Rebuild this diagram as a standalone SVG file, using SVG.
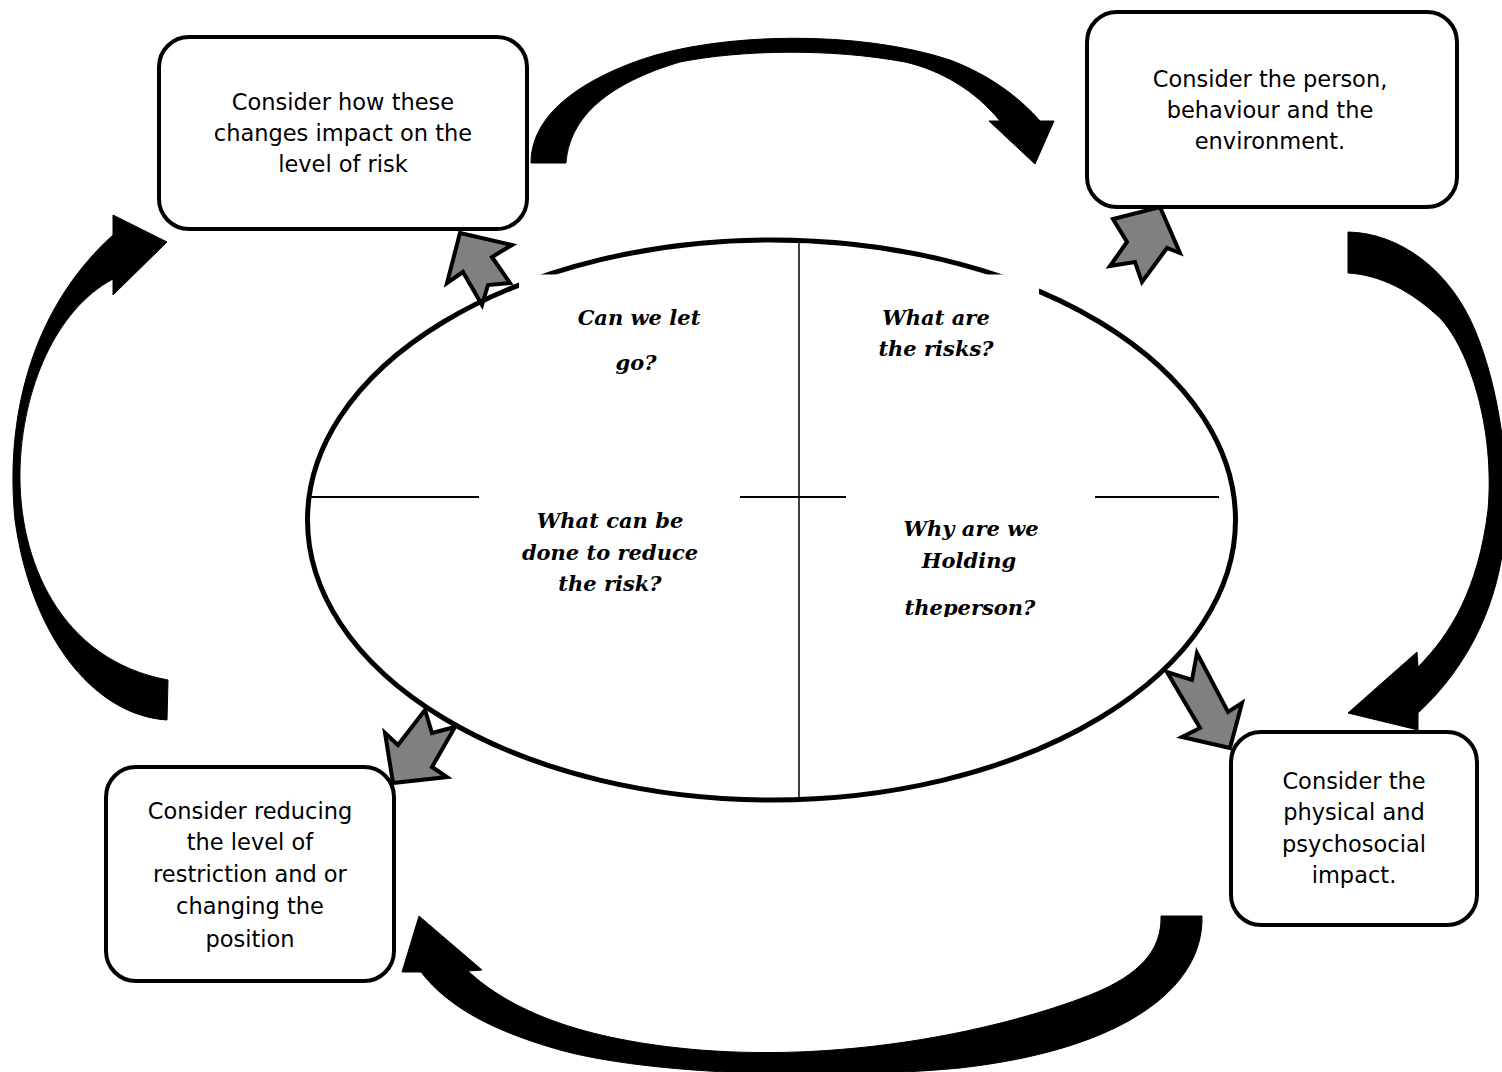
<svg xmlns="http://www.w3.org/2000/svg" width="1502" height="1072" viewBox="0 0 1502 1072">
<style>
.box{fill:#fff;stroke:#000;stroke-width:4}
.lbl{font-family:"DejaVu Sans",Verdana,sans-serif;font-size:22.5px;fill:#000;text-anchor:middle}
.q{font-family:"DejaVu Serif","Liberation Serif",serif;font-size:21px;font-weight:bold;font-style:italic;fill:#000;text-anchor:middle}
.big{fill:#000;stroke:#000;stroke-width:1;stroke-linejoin:round}
.gray{fill:#808080;stroke:#000;stroke-width:4;stroke-linejoin:miter}
.rule{stroke:#000;fill:none}
</style>
<defs>
<clipPath id="clipPerson"><rect x="850" y="580" width="250" height="37"/></clipPath>
</defs>
<rect width="1502" height="1072" fill="#fff"/>

<g id="connectors">
  <path class="big" d="M531,163 C531,120 570,85 640,60 C720,32 860,30 950,60 C990,75 1020,98 1040,121 L1054,121 L1035,164 L989,121 L1000,121 C975,90 940,70 905,62 C830,48 740,50 680,62 C620,80 570,110 566,163 Z"/>
  <path class="big" d="M1348,232 C1400,233 1450,270 1475,330 C1500,390 1510,470 1505,530 C1500,600 1470,665 1418,713 L1418,730 L1348,713 L1417,652 L1418,667 C1450,635 1478,590 1488,510 C1495,430 1470,350 1440,318 C1410,290 1380,275 1348,273 Z"/>
  <path class="big" d="M1202,916 C1204,990 1120,1050 960,1068 C830,1080 650,1075 560,1050 C500,1033 450,1010 421,972 L402,972 L419,916 L482,970 L468,971 C510,1010 580,1040 700,1050 C850,1062 1000,1030 1090,995 C1140,975 1162,950 1161,916 Z"/>
  <path class="big" d="M167,720 C90,715 30,630 15,520 C5,420 30,310 113,235 L113,215 L167,242 L113,295 L113,279 C55,310 22,390 20,470 C18,560 60,660 168,680 Z"/>
  <polygon class="gray" points="460,233 512,245 492,257 510,283 488,285 482,305 463,272 447,283"/>
  <polygon class="gray" points="1160,207 1180,253 1167,248 1142,282 1135,262 1110,266 1127,242 1113,219"/>
  <polygon class="gray" points="1230,748 1182,737 1200,728 1167,672 1192,680 1197,653 1228,712 1242,703"/>
  <polygon class="gray" points="393,783 385,733 398,745 425,710 432,733 455,727 432,767 447,777"/>
</g>

<g id="node-centre">
  <ellipse cx="771.5" cy="520" rx="464" ry="280" class="rule" stroke-width="5"/>
  <rect x="519" y="274.5" width="520" height="120" fill="#fff"/>
  <line class="rule" x1="310" y1="497" x2="479" y2="497" stroke-width="2"/>
  <line class="rule" x1="740" y1="497" x2="846" y2="497" stroke-width="2"/>
  <line class="rule" x1="1095" y1="497" x2="1219" y2="497" stroke-width="2"/>
  <line class="rule" x1="799" y1="241" x2="799" y2="802" stroke-width="1.5"/>
  <text class="q" x="639" y="325">Can we let</text>
  <text class="q" x="636" y="370">go?</text>
  <text class="q" x="936" y="325">What are</text>
  <text class="q" x="936" y="356">the risks?</text>
  <text class="q" x="610" y="528">What can be</text>
  <text class="q" x="610" y="560">done to reduce</text>
  <text class="q" x="610" y="591">the risk?</text>
  <text class="q" x="971" y="536">Why are we</text>
  <text class="q" x="969" y="568">Holding</text>
  <text class="q" x="970" y="615" clip-path="url(#clipPerson)">theperson?</text>
</g>

<g id="node-impact-risk">
  <rect class="box" x="159" y="37" width="368" height="192" rx="30"/>
  <text class="lbl" x="343" y="110">Consider how these</text>
  <text class="lbl" x="343" y="141">changes impact on the</text>
  <text class="lbl" x="343" y="172">level of risk</text>
</g>

<g id="node-person">
  <rect class="box" x="1087" y="12" width="370" height="195" rx="30"/>
  <text class="lbl" x="1270" y="87">Consider the person,</text>
  <text class="lbl" x="1270" y="118">behaviour and the</text>
  <text class="lbl" x="1270" y="149">environment.</text>
</g>

<g id="node-physical">
  <rect class="box" x="1231" y="732" width="246" height="193" rx="30"/>
  <text class="lbl" x="1354" y="789">Consider the</text>
  <text class="lbl" x="1354" y="820">physical and</text>
  <text class="lbl" x="1354" y="852">psychosocial</text>
  <text class="lbl" x="1354" y="883">impact.</text>
</g>

<g id="node-reduce">
  <rect class="box" x="106" y="767" width="288" height="214" rx="30"/>
  <text class="lbl" x="250" y="819">Consider reducing</text>
  <text class="lbl" x="250" y="850">the level of</text>
  <text class="lbl" x="250" y="882">restriction and or</text>
  <text class="lbl" x="250" y="914">changing the</text>
  <text class="lbl" x="250" y="947">position</text>
</g>
</svg>
